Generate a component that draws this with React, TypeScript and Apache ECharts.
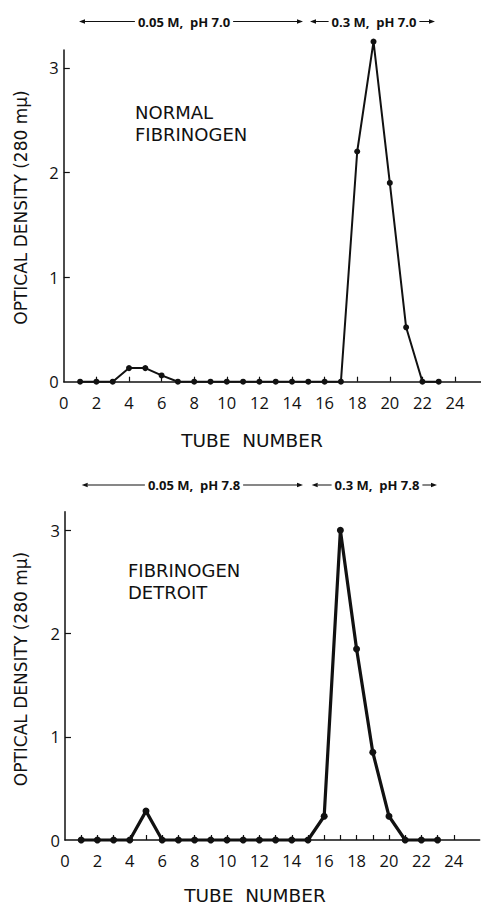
import React, { useEffect, useRef } from "react";
import * as echarts from "echarts";

const tubes = [1, 2, 3, 4, 5, 6, 7, 8, 9, 10, 11, 12, 13, 14, 15, 16, 17, 18, 19, 20, 21, 22, 23];
const normalOD = [0, 0, 0, 0.13, 0.13, 0.06, 0, 0, 0, 0, 0, 0, 0, 0, 0, 0, 0, 2.2, 3.25, 1.9, 0.52, 0, 0];
const detroitOD = [0, 0, 0, 0, 0.28, 0, 0, 0, 0, 0, 0, 0, 0, 0, 0, 0.23, 3.0, 1.85, 0.85, 0.23, 0, 0, 0];
const xLabels = [0, 2, 4, 6, 8, 10, 12, 14, 16, 18, 20, 22, 24];
const xTicksTop = [2, 4, 6, 8, 10, 12, 14, 16, 18, 20, 22, 24];
const xTicksBottom = [1, 2, 3, 4, 5, 6, 7, 8, 9, 10, 11, 12, 13, 14, 15, 16, 17, 18, 19, 20, 21, 22, 23, 24];
const yLabels = [0, 1, 2, 3];
const yTicks = [1, 2, 3];
const headerTop = ["0.05 M,  pH 7.0", "0.3 M,  pH 7.0"];
const headerBottom = ["0.05 M,  pH 7.8", "0.3 M,  pH 7.8"];
const sampleNames = ["NORMAL\nFIBRINOGEN", "FIBRINOGEN\nDETROIT"];
const yName = "OPTICAL DENSITY (280 mμ)";
const xName = "TUBE  NUMBER";

const FONT = "Open Sans";
const NAMEFONT = "DejaVu Sans";
const INK = "#111";

function arrowGroup(x1: number, x2: number, y: number, label: string, tx: number) {
  const ah = 6;
  const hw = 2.2;
  return [
    { type: "line", shape: { x1: x1 + ah, y1: y, x2: x2 - ah, y2: y }, style: { stroke: INK, lineWidth: 1.2 }, z: 10 },
    { type: "polygon", shape: { points: [[x1, y], [x1 + ah, y - hw], [x1 + ah, y + hw]] }, style: { fill: INK }, z: 10 },
    { type: "polygon", shape: { points: [[x2, y], [x2 - ah, y - hw], [x2 - ah, y + hw]] }, style: { fill: INK }, z: 10 },
    {
      type: "text",
      x: tx,
      y: y,
      style: {
        text: label,
        fontFamily: FONT,
        fontSize: 13,
        fontWeight: "bold",
        fill: INK,
        align: "center",
        verticalAlign: "middle",
        backgroundColor: "#fff",
        padding: [0, 3],
      },
      z: 20,
    },
  ];
}

function nameText(text: string, x: number, y: number, size: number, rotate: number) {
  return {
    type: "text",
    x,
    y,
    rotation: rotate,
    style: {
      text,
      fontFamily: NAMEFONT,
      fontSize: size,
      fill: INK,
      align: "center",
      verticalAlign: "middle",
    },
  };
}

export default function App() {
  const ref = useRef<HTMLDivElement>(null);
  useEffect(() => {
    if (!ref.current) return;
    const chart = echarts.init(ref.current, null, { renderer: "svg" });
    const axisLine = { show: true, lineStyle: { color: INK, width: 1.5 } };
    const mkX = (gi: number, ticks: number[]) => ({
      type: "value",
      gridIndex: gi,
      min: 0,
      max: 25.6,
      axisLine: { ...axisLine, onZero: false },
      axisTick: { show: true, inside: true, length: 5, customValues: ticks, lineStyle: { color: INK, width: 1.2 } },
      axisLabel: { customValues: xLabels, fontFamily: FONT, fontSize: 16.5, color: INK, margin: 12 },
      splitLine: { show: false },
    });
    const mkY = (gi: number, max: number) => ({
      type: "value",
      gridIndex: gi,
      min: 0,
      max: max,
      axisLine: { ...axisLine, onZero: false },
      axisTick: { show: true, inside: true, length: 6, customValues: yTicks, lineStyle: { color: INK, width: 1.2 } },
      axisLabel: { customValues: yLabels, fontFamily: FONT, fontSize: 16.5, color: INK, margin: 5 },
      splitLine: { show: false },
    });
    chart.setOption({
      animation: false,
      backgroundColor: "#fff",
      grid: [
        { left: 63.8, top: 50, width: 417.3, height: 331.7, outerBoundsMode: "none" },
        { left: 65, top: 511.7, width: 414.7, height: 328.3, outerBoundsMode: "none" },
      ],
      xAxis: [mkX(0, xTicksTop), mkX(1, xTicksBottom)],
      yAxis: [mkY(0, 3.17), mkY(1, 3.18)],
      series: [
        {
          type: "line",
          xAxisIndex: 0,
          yAxisIndex: 0,
          data: tubes.map((t, i) => [t, normalOD[i]]),
          symbol: "circle",
          symbolSize: 6,
          showAllSymbol: true,
          clip: false,
          lineStyle: { color: INK, width: 2 },
          itemStyle: { color: INK },
        },
        {
          type: "line",
          xAxisIndex: 1,
          yAxisIndex: 1,
          data: tubes.map((t, i) => [t, detroitOD[i]]),
          symbol: "circle",
          symbolSize: 7,
          showAllSymbol: true,
          clip: false,
          lineStyle: { color: INK, width: 3.2 },
          itemStyle: { color: INK },
        },
      ],
      graphic: [
        ...arrowGroup(79, 303, 21.5, headerTop[0], 184),
        ...arrowGroup(310, 435, 21.5, headerTop[1], 374),
        ...arrowGroup(81.7, 303, 485, headerBottom[0], 194),
        ...arrowGroup(311.7, 437, 485, headerBottom[1], 377),
        nameText(yName, 21, 207.5, 17, Math.PI / 2),
        nameText(yName, 21, 669, 17, Math.PI / 2),
        nameText(xName, 252, 440, 18.5, 0),
        nameText(xName, 255, 895, 18.5, 0),
        {
          type: "text",
          x: 135,
          y: 101,
          style: { text: sampleNames[0], fontFamily: NAMEFONT, fontSize: 18, fill: INK, lineHeight: 22 },
        },
        {
          type: "text",
          x: 128,
          y: 559,
          style: { text: sampleNames[1], fontFamily: NAMEFONT, fontSize: 18, fill: INK, lineHeight: 22 },
        },
      ],
    });
    return () => chart.dispose();
  }, []);
  return (
    <div
      ref={ref}
      style={{ position: "fixed", left: 0, top: 0, width: 481, height: 907, background: "#fff" }}
    />
  );
}
